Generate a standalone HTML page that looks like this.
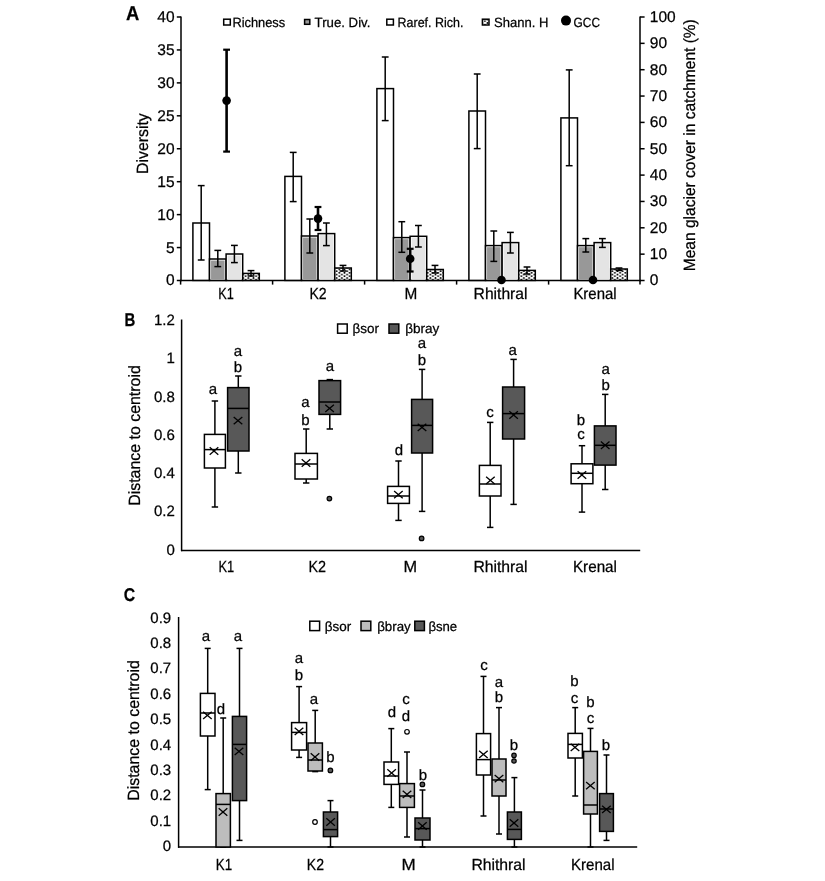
<!DOCTYPE html>
<html><head><meta charset="utf-8"><title>Figure</title>
<style>
html,body{margin:0;padding:0;background:#fff;}
svg{display:block;filter:grayscale(1);}
text{font-family:"Liberation Sans", sans-serif;fill:#000;text-rendering:geometricPrecision;stroke:#000;stroke-width:0.25px;}
</style></head>
<body>
<svg width="825" height="881" viewBox="0 0 825 881">
<defs>
<pattern id="pat" patternUnits="userSpaceOnUse" width="5.2" height="3.4">
<rect width="5.2" height="3.4" fill="#fff"/>
<circle cx="1.3" cy="0.85" r="0.95" fill="#000"/>
<circle cx="3.9" cy="2.55" r="0.95" fill="#000"/>
</pattern>
</defs>
<rect width="825" height="881" fill="#fff"/>
<text x="125.90" y="19.70" font-size="20" font-weight="bold" textLength="13.30" lengthAdjust="spacingAndGlyphs">A</text>
<line x1="181.00" y1="16.50" x2="181.00" y2="281.20" stroke="#000" stroke-width="1.5"/>
<line x1="176.80" y1="280.50" x2="181.00" y2="280.50" stroke="#000" stroke-width="1.5"/>
<text x="174.60" y="285.45" font-size="15.5" text-anchor="end">0</text>
<line x1="176.80" y1="247.56" x2="181.00" y2="247.56" stroke="#000" stroke-width="1.5"/>
<text x="174.60" y="252.51" font-size="15.5" text-anchor="end">5</text>
<line x1="176.80" y1="214.62" x2="181.00" y2="214.62" stroke="#000" stroke-width="1.5"/>
<text x="174.60" y="219.57" font-size="15.5" text-anchor="end">10</text>
<line x1="176.80" y1="181.69" x2="181.00" y2="181.69" stroke="#000" stroke-width="1.5"/>
<text x="174.60" y="186.64" font-size="15.5" text-anchor="end">15</text>
<line x1="176.80" y1="148.75" x2="181.00" y2="148.75" stroke="#000" stroke-width="1.5"/>
<text x="174.60" y="153.70" font-size="15.5" text-anchor="end">20</text>
<line x1="176.80" y1="115.81" x2="181.00" y2="115.81" stroke="#000" stroke-width="1.5"/>
<text x="174.60" y="120.76" font-size="15.5" text-anchor="end">25</text>
<line x1="176.80" y1="82.88" x2="181.00" y2="82.88" stroke="#000" stroke-width="1.5"/>
<text x="174.60" y="87.83" font-size="15.5" text-anchor="end">30</text>
<line x1="176.80" y1="49.94" x2="181.00" y2="49.94" stroke="#000" stroke-width="1.5"/>
<text x="174.60" y="54.89" font-size="15.5" text-anchor="end">35</text>
<line x1="176.80" y1="17.00" x2="181.00" y2="17.00" stroke="#000" stroke-width="1.5"/>
<text x="174.60" y="21.95" font-size="15.5" text-anchor="end">40</text>
<line x1="180.00" y1="280.40" x2="640.50" y2="280.40" stroke="#000" stroke-width="1.5"/>
<line x1="180.60" y1="280.40" x2="180.60" y2="284.60" stroke="#000" stroke-width="1.5"/>
<line x1="272.60" y1="280.40" x2="272.60" y2="284.60" stroke="#000" stroke-width="1.5"/>
<line x1="364.60" y1="280.40" x2="364.60" y2="284.60" stroke="#000" stroke-width="1.5"/>
<line x1="456.60" y1="280.40" x2="456.60" y2="284.60" stroke="#000" stroke-width="1.5"/>
<line x1="548.60" y1="280.40" x2="548.60" y2="284.60" stroke="#000" stroke-width="1.5"/>
<line x1="640.00" y1="280.40" x2="640.00" y2="284.60" stroke="#000" stroke-width="1.5"/>
<line x1="640.00" y1="16.50" x2="640.00" y2="281.20" stroke="#000" stroke-width="1.5"/>
<line x1="640.00" y1="280.50" x2="644.60" y2="280.50" stroke="#000" stroke-width="1.5"/>
<text x="649.80" y="285.45" font-size="15.5">0</text>
<line x1="640.00" y1="254.15" x2="644.60" y2="254.15" stroke="#000" stroke-width="1.5"/>
<text x="649.80" y="259.10" font-size="15.5">10</text>
<line x1="640.00" y1="227.80" x2="644.60" y2="227.80" stroke="#000" stroke-width="1.5"/>
<text x="649.80" y="232.75" font-size="15.5">20</text>
<line x1="640.00" y1="201.45" x2="644.60" y2="201.45" stroke="#000" stroke-width="1.5"/>
<text x="649.80" y="206.40" font-size="15.5">30</text>
<line x1="640.00" y1="175.10" x2="644.60" y2="175.10" stroke="#000" stroke-width="1.5"/>
<text x="649.80" y="180.05" font-size="15.5">40</text>
<line x1="640.00" y1="148.75" x2="644.60" y2="148.75" stroke="#000" stroke-width="1.5"/>
<text x="649.80" y="153.70" font-size="15.5">50</text>
<line x1="640.00" y1="122.40" x2="644.60" y2="122.40" stroke="#000" stroke-width="1.5"/>
<text x="649.80" y="127.35" font-size="15.5">60</text>
<line x1="640.00" y1="96.05" x2="644.60" y2="96.05" stroke="#000" stroke-width="1.5"/>
<text x="649.80" y="101.00" font-size="15.5">70</text>
<line x1="640.00" y1="69.70" x2="644.60" y2="69.70" stroke="#000" stroke-width="1.5"/>
<text x="649.80" y="74.65" font-size="15.5">80</text>
<line x1="640.00" y1="43.35" x2="644.60" y2="43.35" stroke="#000" stroke-width="1.5"/>
<text x="649.80" y="48.30" font-size="15.5">90</text>
<line x1="640.00" y1="17.00" x2="644.60" y2="17.00" stroke="#000" stroke-width="1.5"/>
<text x="649.80" y="21.95" font-size="15.5">100</text>
<rect x="192.90" y="223.00" width="16.60" height="57.40" fill="#ffffff" stroke="#000" stroke-width="1.5"/>
<rect x="209.50" y="259.00" width="16.60" height="21.40" fill="#fff" stroke="#000" stroke-width="1.5"/>
<rect x="211.05" y="260.55" width="13.50" height="19.10" fill="#989898"/>
<rect x="226.10" y="254.00" width="16.60" height="26.40" fill="#fff" stroke="#000" stroke-width="1.5"/>
<rect x="227.65" y="255.55" width="13.50" height="24.10" fill="#e4e4e4"/>
<rect x="242.70" y="273.40" width="16.60" height="7.00" fill="url(#pat)" stroke="#000" stroke-width="1.5"/>
<line x1="201.20" y1="185.60" x2="201.20" y2="260.00" stroke="#000" stroke-width="1.5"/>
<line x1="197.80" y1="185.60" x2="204.60" y2="185.60" stroke="#000" stroke-width="1.5"/>
<line x1="197.80" y1="260.00" x2="204.60" y2="260.00" stroke="#000" stroke-width="1.5"/>
<line x1="217.80" y1="250.40" x2="217.80" y2="266.60" stroke="#000" stroke-width="1.5"/>
<line x1="214.40" y1="250.40" x2="221.20" y2="250.40" stroke="#000" stroke-width="1.5"/>
<line x1="214.40" y1="266.60" x2="221.20" y2="266.60" stroke="#000" stroke-width="1.5"/>
<line x1="234.40" y1="245.40" x2="234.40" y2="262.60" stroke="#000" stroke-width="1.5"/>
<line x1="231.00" y1="245.40" x2="237.80" y2="245.40" stroke="#000" stroke-width="1.5"/>
<line x1="231.00" y1="262.60" x2="237.80" y2="262.60" stroke="#000" stroke-width="1.5"/>
<line x1="251.00" y1="270.60" x2="251.00" y2="276.00" stroke="#000" stroke-width="1.5"/>
<line x1="247.60" y1="270.60" x2="254.40" y2="270.60" stroke="#000" stroke-width="1.5"/>
<line x1="247.60" y1="276.00" x2="254.40" y2="276.00" stroke="#000" stroke-width="1.5"/>
<rect x="284.90" y="176.40" width="16.60" height="104.00" fill="#ffffff" stroke="#000" stroke-width="1.5"/>
<rect x="301.50" y="236.00" width="16.60" height="44.40" fill="#fff" stroke="#000" stroke-width="1.5"/>
<rect x="303.05" y="237.55" width="13.50" height="42.10" fill="#989898"/>
<rect x="318.10" y="233.60" width="16.60" height="46.80" fill="#fff" stroke="#000" stroke-width="1.5"/>
<rect x="319.65" y="235.15" width="13.50" height="44.50" fill="#e4e4e4"/>
<rect x="334.70" y="268.00" width="16.60" height="12.40" fill="url(#pat)" stroke="#000" stroke-width="1.5"/>
<line x1="293.20" y1="152.40" x2="293.20" y2="201.60" stroke="#000" stroke-width="1.5"/>
<line x1="289.80" y1="152.40" x2="296.60" y2="152.40" stroke="#000" stroke-width="1.5"/>
<line x1="289.80" y1="201.60" x2="296.60" y2="201.60" stroke="#000" stroke-width="1.5"/>
<line x1="309.80" y1="219.00" x2="309.80" y2="253.00" stroke="#000" stroke-width="1.5"/>
<line x1="306.40" y1="219.00" x2="313.20" y2="219.00" stroke="#000" stroke-width="1.5"/>
<line x1="306.40" y1="253.00" x2="313.20" y2="253.00" stroke="#000" stroke-width="1.5"/>
<line x1="326.40" y1="223.00" x2="326.40" y2="245.60" stroke="#000" stroke-width="1.5"/>
<line x1="323.00" y1="223.00" x2="329.80" y2="223.00" stroke="#000" stroke-width="1.5"/>
<line x1="323.00" y1="245.60" x2="329.80" y2="245.60" stroke="#000" stroke-width="1.5"/>
<line x1="343.00" y1="265.40" x2="343.00" y2="271.00" stroke="#000" stroke-width="1.5"/>
<line x1="339.60" y1="265.40" x2="346.40" y2="265.40" stroke="#000" stroke-width="1.5"/>
<line x1="339.60" y1="271.00" x2="346.40" y2="271.00" stroke="#000" stroke-width="1.5"/>
<rect x="376.90" y="88.60" width="16.60" height="191.80" fill="#ffffff" stroke="#000" stroke-width="1.5"/>
<rect x="393.50" y="237.60" width="16.60" height="42.80" fill="#fff" stroke="#000" stroke-width="1.5"/>
<rect x="395.05" y="239.15" width="13.50" height="40.50" fill="#989898"/>
<rect x="410.10" y="236.30" width="16.60" height="44.10" fill="#fff" stroke="#000" stroke-width="1.5"/>
<rect x="411.65" y="237.85" width="13.50" height="41.80" fill="#e4e4e4"/>
<rect x="426.70" y="269.50" width="16.60" height="10.90" fill="url(#pat)" stroke="#000" stroke-width="1.5"/>
<line x1="385.20" y1="57.00" x2="385.20" y2="120.60" stroke="#000" stroke-width="1.5"/>
<line x1="381.80" y1="57.00" x2="388.60" y2="57.00" stroke="#000" stroke-width="1.5"/>
<line x1="381.80" y1="120.60" x2="388.60" y2="120.60" stroke="#000" stroke-width="1.5"/>
<line x1="401.80" y1="221.70" x2="401.80" y2="252.30" stroke="#000" stroke-width="1.5"/>
<line x1="398.40" y1="221.70" x2="405.20" y2="221.70" stroke="#000" stroke-width="1.5"/>
<line x1="398.40" y1="252.30" x2="405.20" y2="252.30" stroke="#000" stroke-width="1.5"/>
<line x1="418.40" y1="225.50" x2="418.40" y2="247.00" stroke="#000" stroke-width="1.5"/>
<line x1="415.00" y1="225.50" x2="421.80" y2="225.50" stroke="#000" stroke-width="1.5"/>
<line x1="415.00" y1="247.00" x2="421.80" y2="247.00" stroke="#000" stroke-width="1.5"/>
<line x1="435.00" y1="265.40" x2="435.00" y2="273.00" stroke="#000" stroke-width="1.5"/>
<line x1="431.60" y1="265.40" x2="438.40" y2="265.40" stroke="#000" stroke-width="1.5"/>
<line x1="431.60" y1="273.00" x2="438.40" y2="273.00" stroke="#000" stroke-width="1.5"/>
<rect x="468.90" y="111.00" width="16.60" height="169.40" fill="#ffffff" stroke="#000" stroke-width="1.5"/>
<rect x="485.50" y="245.60" width="16.60" height="34.80" fill="#fff" stroke="#000" stroke-width="1.5"/>
<rect x="487.05" y="247.15" width="13.50" height="32.50" fill="#989898"/>
<rect x="502.10" y="242.60" width="16.60" height="37.80" fill="#fff" stroke="#000" stroke-width="1.5"/>
<rect x="503.65" y="244.15" width="13.50" height="35.50" fill="#e4e4e4"/>
<rect x="518.70" y="270.40" width="16.60" height="10.00" fill="url(#pat)" stroke="#000" stroke-width="1.5"/>
<line x1="477.20" y1="74.00" x2="477.20" y2="148.60" stroke="#000" stroke-width="1.5"/>
<line x1="473.80" y1="74.00" x2="480.60" y2="74.00" stroke="#000" stroke-width="1.5"/>
<line x1="473.80" y1="148.60" x2="480.60" y2="148.60" stroke="#000" stroke-width="1.5"/>
<line x1="493.80" y1="231.00" x2="493.80" y2="261.40" stroke="#000" stroke-width="1.5"/>
<line x1="490.40" y1="231.00" x2="497.20" y2="231.00" stroke="#000" stroke-width="1.5"/>
<line x1="490.40" y1="261.40" x2="497.20" y2="261.40" stroke="#000" stroke-width="1.5"/>
<line x1="510.40" y1="232.40" x2="510.40" y2="253.00" stroke="#000" stroke-width="1.5"/>
<line x1="507.00" y1="232.40" x2="513.80" y2="232.40" stroke="#000" stroke-width="1.5"/>
<line x1="507.00" y1="253.00" x2="513.80" y2="253.00" stroke="#000" stroke-width="1.5"/>
<line x1="527.00" y1="267.00" x2="527.00" y2="274.00" stroke="#000" stroke-width="1.5"/>
<line x1="523.60" y1="267.00" x2="530.40" y2="267.00" stroke="#000" stroke-width="1.5"/>
<line x1="523.60" y1="274.00" x2="530.40" y2="274.00" stroke="#000" stroke-width="1.5"/>
<rect x="560.90" y="117.90" width="16.60" height="162.50" fill="#ffffff" stroke="#000" stroke-width="1.5"/>
<rect x="577.50" y="245.60" width="16.60" height="34.80" fill="#fff" stroke="#000" stroke-width="1.5"/>
<rect x="579.05" y="247.15" width="13.50" height="32.50" fill="#989898"/>
<rect x="594.10" y="242.60" width="16.60" height="37.80" fill="#fff" stroke="#000" stroke-width="1.5"/>
<rect x="595.65" y="244.15" width="13.50" height="35.50" fill="#e4e4e4"/>
<rect x="610.70" y="269.00" width="16.60" height="11.40" fill="url(#pat)" stroke="#000" stroke-width="1.5"/>
<line x1="569.20" y1="69.90" x2="569.20" y2="165.70" stroke="#000" stroke-width="1.5"/>
<line x1="565.80" y1="69.90" x2="572.60" y2="69.90" stroke="#000" stroke-width="1.5"/>
<line x1="565.80" y1="165.70" x2="572.60" y2="165.70" stroke="#000" stroke-width="1.5"/>
<line x1="585.80" y1="238.60" x2="585.80" y2="252.00" stroke="#000" stroke-width="1.5"/>
<line x1="582.40" y1="238.60" x2="589.20" y2="238.60" stroke="#000" stroke-width="1.5"/>
<line x1="582.40" y1="252.00" x2="589.20" y2="252.00" stroke="#000" stroke-width="1.5"/>
<line x1="602.40" y1="238.60" x2="602.40" y2="247.40" stroke="#000" stroke-width="1.5"/>
<line x1="599.00" y1="238.60" x2="605.80" y2="238.60" stroke="#000" stroke-width="1.5"/>
<line x1="599.00" y1="247.40" x2="605.80" y2="247.40" stroke="#000" stroke-width="1.5"/>
<line x1="619.00" y1="268.00" x2="619.00" y2="270.50" stroke="#000" stroke-width="1.5"/>
<line x1="615.60" y1="268.00" x2="622.40" y2="268.00" stroke="#000" stroke-width="1.5"/>
<line x1="615.60" y1="270.50" x2="622.40" y2="270.50" stroke="#000" stroke-width="1.5"/>
<line x1="226.60" y1="49.70" x2="226.60" y2="151.60" stroke="#000" stroke-width="2.6"/>
<line x1="223.20" y1="49.70" x2="230.00" y2="49.70" stroke="#000" stroke-width="2.2"/>
<line x1="223.20" y1="151.60" x2="230.00" y2="151.60" stroke="#000" stroke-width="2.2"/>
<circle cx="226.60" cy="100.60" r="4.30" fill="#000" stroke="#000" stroke-width="0"/>
<line x1="318.00" y1="207.00" x2="318.00" y2="230.00" stroke="#000" stroke-width="2.6"/>
<line x1="314.60" y1="207.00" x2="321.40" y2="207.00" stroke="#000" stroke-width="2.2"/>
<line x1="314.60" y1="230.00" x2="321.40" y2="230.00" stroke="#000" stroke-width="2.2"/>
<circle cx="318.00" cy="218.60" r="4.30" fill="#000" stroke="#000" stroke-width="0"/>
<line x1="410.20" y1="248.80" x2="410.20" y2="271.50" stroke="#000" stroke-width="2.6"/>
<line x1="406.80" y1="248.80" x2="413.60" y2="248.80" stroke="#000" stroke-width="2.2"/>
<line x1="406.80" y1="271.50" x2="413.60" y2="271.50" stroke="#000" stroke-width="2.2"/>
<circle cx="410.20" cy="258.70" r="4.30" fill="#000" stroke="#000" stroke-width="0"/>
<circle cx="501.50" cy="280.00" r="4.30" fill="#000" stroke="#000" stroke-width="0"/>
<circle cx="593.00" cy="280.00" r="4.30" fill="#000" stroke="#000" stroke-width="0"/>
<text x="218.20" y="298.90" font-size="16" textLength="15.60" lengthAdjust="spacingAndGlyphs">K1</text>
<text x="309.40" y="298.90" font-size="16" textLength="17.20" lengthAdjust="spacingAndGlyphs">K2</text>
<text x="404.50" y="298.90" font-size="16" textLength="12.80" lengthAdjust="spacingAndGlyphs">M</text>
<text x="473.60" y="298.90" font-size="16" textLength="53.90" lengthAdjust="spacingAndGlyphs">Rhithral</text>
<text x="573.40" y="298.90" font-size="16" textLength="43.20" lengthAdjust="spacingAndGlyphs">Krenal</text>
<rect x="223.70" y="19.20" width="6.60" height="5.80" fill="#fff" stroke="#000" stroke-width="1.5"/>
<text x="232.40" y="27.40" font-size="13.4" textLength="52.80" lengthAdjust="spacingAndGlyphs">Richness</text>
<rect x="304.60" y="19.50" width="5.20" height="4.80" fill="#989898" stroke="#000" stroke-width="1.5"/>
<text x="314.60" y="27.40" font-size="13.4" textLength="55.80" lengthAdjust="spacingAndGlyphs">True. Div.</text>
<rect x="386.80" y="19.20" width="6.60" height="5.80" fill="#fff" stroke="#000" stroke-width="1.5"/>
<text x="397.60" y="27.40" font-size="13.4" textLength="65.80" lengthAdjust="spacingAndGlyphs">Raref. Rich.</text>
<rect x="482.40" y="19.20" width="6.60" height="5.80" fill="url(#pat)" stroke="#000" stroke-width="1.5"/>
<text x="494.00" y="27.40" font-size="13.4" textLength="54.40" lengthAdjust="spacingAndGlyphs">Shann. H</text>
<circle cx="566.00" cy="20.60" r="5.00" fill="#000" stroke="#000" stroke-width="0"/>
<text x="573.60" y="27.40" font-size="13.4" textLength="26.40" lengthAdjust="spacingAndGlyphs">GCC</text>
<text transform="translate(148.10,173.90) rotate(-90)" font-size="16.3" textLength="60.60" lengthAdjust="spacingAndGlyphs">Diversity</text>
<text transform="translate(695.00,271.20) rotate(-90)" font-size="16.3" textLength="252.00" lengthAdjust="spacingAndGlyphs">Mean glacier cover in catchment (%)</text>
<text x="124.50" y="326.10" font-size="18.5" font-weight="bold" textLength="10.80" lengthAdjust="spacingAndGlyphs">B</text>
<line x1="181.60" y1="319.50" x2="181.60" y2="551.20" stroke="#000" stroke-width="1.5"/>
<line x1="181.00" y1="550.50" x2="640.20" y2="550.50" stroke="#000" stroke-width="1.5"/>
<text x="174.80" y="325.20" font-size="15" text-anchor="end">1.2</text>
<text x="174.80" y="363.45" font-size="15" text-anchor="end">1</text>
<text x="174.80" y="401.70" font-size="15" text-anchor="end">0.8</text>
<text x="174.80" y="439.95" font-size="15" text-anchor="end">0.6</text>
<text x="174.80" y="478.20" font-size="15" text-anchor="end">0.4</text>
<text x="174.80" y="516.45" font-size="15" text-anchor="end">0.2</text>
<text x="174.80" y="554.70" font-size="15" text-anchor="end">0</text>
<text transform="translate(140.20,505.80) rotate(-90)" font-size="16.3" textLength="140.60" lengthAdjust="spacingAndGlyphs">Distance to centroid</text>
<text x="218.40" y="572.00" font-size="16" textLength="15.80" lengthAdjust="spacingAndGlyphs">K1</text>
<text x="308.40" y="572.00" font-size="16" textLength="17.60" lengthAdjust="spacingAndGlyphs">K2</text>
<text x="403.40" y="572.00" font-size="16" textLength="13.60" lengthAdjust="spacingAndGlyphs">M</text>
<text x="473.40" y="572.00" font-size="16" textLength="54.20" lengthAdjust="spacingAndGlyphs">Rhithral</text>
<text x="572.90" y="572.00" font-size="16" textLength="44.10" lengthAdjust="spacingAndGlyphs">Krenal</text>
<line x1="214.90" y1="401.00" x2="214.90" y2="434.40" stroke="#000" stroke-width="1.5"/>
<line x1="214.90" y1="468.00" x2="214.90" y2="507.00" stroke="#000" stroke-width="1.5"/>
<line x1="211.70" y1="401.00" x2="218.10" y2="401.00" stroke="#000" stroke-width="1.5"/>
<line x1="211.70" y1="507.00" x2="218.10" y2="507.00" stroke="#000" stroke-width="1.5"/>
<rect x="204.40" y="434.40" width="21.00" height="33.60" fill="#fff" stroke="#000" stroke-width="1.5"/>
<line x1="204.40" y1="449.60" x2="225.40" y2="449.60" stroke="#000" stroke-width="1.5"/>
<line x1="209.70" y1="447.30" x2="218.30" y2="454.70" stroke="#000" stroke-width="1.3"/>
<line x1="209.70" y1="454.70" x2="218.30" y2="447.30" stroke="#000" stroke-width="1.3"/>
<line x1="238.30" y1="376.00" x2="238.30" y2="387.60" stroke="#000" stroke-width="1.5"/>
<line x1="238.30" y1="451.00" x2="238.30" y2="473.00" stroke="#000" stroke-width="1.5"/>
<line x1="235.10" y1="376.00" x2="241.50" y2="376.00" stroke="#000" stroke-width="1.5"/>
<line x1="235.10" y1="473.00" x2="241.50" y2="473.00" stroke="#000" stroke-width="1.5"/>
<rect x="227.60" y="387.60" width="21.40" height="63.40" fill="#585858" stroke="#000" stroke-width="1.5"/>
<line x1="227.60" y1="408.40" x2="249.00" y2="408.40" stroke="#000" stroke-width="1.5"/>
<line x1="233.70" y1="416.90" x2="242.30" y2="424.30" stroke="#000" stroke-width="1.3"/>
<line x1="233.70" y1="424.30" x2="242.30" y2="416.90" stroke="#000" stroke-width="1.3"/>
<line x1="306.20" y1="429.00" x2="306.20" y2="453.40" stroke="#000" stroke-width="1.5"/>
<line x1="306.20" y1="479.00" x2="306.20" y2="483.00" stroke="#000" stroke-width="1.5"/>
<line x1="303.00" y1="429.00" x2="309.40" y2="429.00" stroke="#000" stroke-width="1.5"/>
<line x1="303.00" y1="483.00" x2="309.40" y2="483.00" stroke="#000" stroke-width="1.5"/>
<rect x="295.00" y="453.40" width="22.40" height="25.60" fill="#fff" stroke="#000" stroke-width="1.5"/>
<line x1="295.00" y1="464.00" x2="317.40" y2="464.00" stroke="#000" stroke-width="1.5"/>
<line x1="301.70" y1="459.30" x2="310.30" y2="466.70" stroke="#000" stroke-width="1.3"/>
<line x1="301.70" y1="466.70" x2="310.30" y2="459.30" stroke="#000" stroke-width="1.3"/>
<line x1="329.80" y1="379.60" x2="329.80" y2="380.60" stroke="#000" stroke-width="1.5"/>
<line x1="329.80" y1="414.40" x2="329.80" y2="429.00" stroke="#000" stroke-width="1.5"/>
<line x1="326.60" y1="379.60" x2="333.00" y2="379.60" stroke="#000" stroke-width="1.5"/>
<line x1="326.60" y1="429.00" x2="333.00" y2="429.00" stroke="#000" stroke-width="1.5"/>
<rect x="319.00" y="380.60" width="21.60" height="33.80" fill="#585858" stroke="#000" stroke-width="1.5"/>
<line x1="319.00" y1="402.00" x2="340.60" y2="402.00" stroke="#000" stroke-width="1.5"/>
<line x1="325.30" y1="404.70" x2="333.90" y2="412.10" stroke="#000" stroke-width="1.3"/>
<line x1="325.30" y1="412.10" x2="333.90" y2="404.70" stroke="#000" stroke-width="1.3"/>
<line x1="398.50" y1="461.00" x2="398.50" y2="486.40" stroke="#000" stroke-width="1.5"/>
<line x1="398.50" y1="503.40" x2="398.50" y2="520.40" stroke="#000" stroke-width="1.5"/>
<line x1="395.30" y1="461.00" x2="401.70" y2="461.00" stroke="#000" stroke-width="1.5"/>
<line x1="395.30" y1="520.40" x2="401.70" y2="520.40" stroke="#000" stroke-width="1.5"/>
<rect x="387.60" y="486.40" width="21.80" height="17.00" fill="#fff" stroke="#000" stroke-width="1.5"/>
<line x1="387.60" y1="496.00" x2="409.40" y2="496.00" stroke="#000" stroke-width="1.5"/>
<line x1="394.10" y1="490.90" x2="402.70" y2="498.30" stroke="#000" stroke-width="1.3"/>
<line x1="394.10" y1="498.30" x2="402.70" y2="490.90" stroke="#000" stroke-width="1.3"/>
<line x1="422.10" y1="369.40" x2="422.10" y2="399.40" stroke="#000" stroke-width="1.5"/>
<line x1="422.10" y1="453.00" x2="422.10" y2="511.40" stroke="#000" stroke-width="1.5"/>
<line x1="418.90" y1="369.40" x2="425.30" y2="369.40" stroke="#000" stroke-width="1.5"/>
<line x1="418.90" y1="511.40" x2="425.30" y2="511.40" stroke="#000" stroke-width="1.5"/>
<rect x="411.60" y="399.40" width="21.00" height="53.60" fill="#585858" stroke="#000" stroke-width="1.5"/>
<line x1="411.60" y1="425.40" x2="432.60" y2="425.40" stroke="#000" stroke-width="1.5"/>
<line x1="417.70" y1="423.70" x2="426.30" y2="431.10" stroke="#000" stroke-width="1.3"/>
<line x1="417.70" y1="431.10" x2="426.30" y2="423.70" stroke="#000" stroke-width="1.3"/>
<line x1="490.20" y1="422.40" x2="490.20" y2="465.40" stroke="#000" stroke-width="1.5"/>
<line x1="490.20" y1="496.00" x2="490.20" y2="527.40" stroke="#000" stroke-width="1.5"/>
<line x1="487.00" y1="422.40" x2="493.40" y2="422.40" stroke="#000" stroke-width="1.5"/>
<line x1="487.00" y1="527.40" x2="493.40" y2="527.40" stroke="#000" stroke-width="1.5"/>
<rect x="479.40" y="465.40" width="21.60" height="30.60" fill="#fff" stroke="#000" stroke-width="1.5"/>
<line x1="479.40" y1="484.00" x2="501.00" y2="484.00" stroke="#000" stroke-width="1.5"/>
<line x1="486.10" y1="476.70" x2="494.70" y2="484.10" stroke="#000" stroke-width="1.3"/>
<line x1="486.10" y1="484.10" x2="494.70" y2="476.70" stroke="#000" stroke-width="1.3"/>
<line x1="513.60" y1="359.40" x2="513.60" y2="387.00" stroke="#000" stroke-width="1.5"/>
<line x1="513.60" y1="439.00" x2="513.60" y2="504.40" stroke="#000" stroke-width="1.5"/>
<line x1="510.40" y1="359.40" x2="516.80" y2="359.40" stroke="#000" stroke-width="1.5"/>
<line x1="510.40" y1="504.40" x2="516.80" y2="504.40" stroke="#000" stroke-width="1.5"/>
<rect x="502.60" y="387.00" width="22.00" height="52.00" fill="#585858" stroke="#000" stroke-width="1.5"/>
<line x1="502.60" y1="413.60" x2="524.60" y2="413.60" stroke="#000" stroke-width="1.5"/>
<line x1="509.30" y1="411.30" x2="517.90" y2="418.70" stroke="#000" stroke-width="1.3"/>
<line x1="509.30" y1="418.70" x2="517.90" y2="411.30" stroke="#000" stroke-width="1.3"/>
<line x1="582.00" y1="445.70" x2="582.00" y2="463.80" stroke="#000" stroke-width="1.5"/>
<line x1="582.00" y1="483.70" x2="582.00" y2="512.10" stroke="#000" stroke-width="1.5"/>
<line x1="578.80" y1="445.70" x2="585.20" y2="445.70" stroke="#000" stroke-width="1.5"/>
<line x1="578.80" y1="512.10" x2="585.20" y2="512.10" stroke="#000" stroke-width="1.5"/>
<rect x="571.10" y="463.80" width="21.80" height="19.90" fill="#fff" stroke="#000" stroke-width="1.5"/>
<line x1="571.10" y1="473.30" x2="592.90" y2="473.30" stroke="#000" stroke-width="1.5"/>
<line x1="577.60" y1="471.30" x2="586.20" y2="478.70" stroke="#000" stroke-width="1.3"/>
<line x1="577.60" y1="478.70" x2="586.20" y2="471.30" stroke="#000" stroke-width="1.3"/>
<line x1="605.20" y1="394.40" x2="605.20" y2="425.90" stroke="#000" stroke-width="1.5"/>
<line x1="605.20" y1="465.10" x2="605.20" y2="489.50" stroke="#000" stroke-width="1.5"/>
<line x1="602.00" y1="394.40" x2="608.40" y2="394.40" stroke="#000" stroke-width="1.5"/>
<line x1="602.00" y1="489.50" x2="608.40" y2="489.50" stroke="#000" stroke-width="1.5"/>
<rect x="594.40" y="425.90" width="21.60" height="39.20" fill="#585858" stroke="#000" stroke-width="1.5"/>
<line x1="594.40" y1="445.30" x2="616.00" y2="445.30" stroke="#000" stroke-width="1.5"/>
<line x1="600.90" y1="441.60" x2="609.50" y2="449.00" stroke="#000" stroke-width="1.3"/>
<line x1="600.90" y1="449.00" x2="609.50" y2="441.60" stroke="#000" stroke-width="1.3"/>
<circle cx="329.40" cy="498.60" r="2.30" fill="#585858" stroke="#000" stroke-width="1.2"/>
<circle cx="421.60" cy="538.40" r="2.30" fill="#585858" stroke="#000" stroke-width="1.2"/>
<text x="213.00" y="394.00" font-size="15" text-anchor="middle">a</text>
<text x="238.00" y="356.00" font-size="15" text-anchor="middle">a</text>
<text x="238.00" y="372.00" font-size="15" text-anchor="middle">b</text>
<text x="305.40" y="407.00" font-size="15" text-anchor="middle">a</text>
<text x="305.40" y="425.00" font-size="15" text-anchor="middle">b</text>
<text x="330.00" y="371.40" font-size="15" text-anchor="middle">a</text>
<text x="399.00" y="455.00" font-size="15" text-anchor="middle">d</text>
<text x="422.00" y="348.00" font-size="15" text-anchor="middle">a</text>
<text x="422.00" y="365.40" font-size="15" text-anchor="middle">b</text>
<text x="490.00" y="417.00" font-size="15" text-anchor="middle">c</text>
<text x="512.60" y="355.00" font-size="15" text-anchor="middle">a</text>
<text x="581.00" y="424.60" font-size="15" text-anchor="middle">b</text>
<text x="581.00" y="438.60" font-size="15" text-anchor="middle">c</text>
<text x="605.60" y="374.00" font-size="15" text-anchor="middle">a</text>
<text x="605.60" y="390.00" font-size="15" text-anchor="middle">b</text>
<rect x="337.60" y="324.00" width="9.60" height="9.20" fill="#fff" stroke="#000" stroke-width="1.5"/>
<text x="352.60" y="333.20" font-size="13.4" textLength="26.40" lengthAdjust="spacingAndGlyphs">βsor</text>
<rect x="389.00" y="324.00" width="9.80" height="9.20" fill="#585858" stroke="#000" stroke-width="1.5"/>
<text x="405.20" y="333.20" font-size="13.4" textLength="34.20" lengthAdjust="spacingAndGlyphs">βbray</text>
<text x="123.80" y="601.00" font-size="18.5" font-weight="bold" textLength="11.40" lengthAdjust="spacingAndGlyphs">C</text>
<line x1="178.60" y1="617.00" x2="178.60" y2="847.80" stroke="#000" stroke-width="1.5"/>
<line x1="178.00" y1="847.10" x2="637.20" y2="847.10" stroke="#000" stroke-width="1.5"/>
<text x="171.20" y="851.10" font-size="15" text-anchor="end">0</text>
<text x="171.20" y="825.72" font-size="15" text-anchor="end">0.1</text>
<text x="171.20" y="800.34" font-size="15" text-anchor="end">0.2</text>
<text x="171.20" y="774.96" font-size="15" text-anchor="end">0.3</text>
<text x="171.20" y="749.58" font-size="15" text-anchor="end">0.4</text>
<text x="171.20" y="724.20" font-size="15" text-anchor="end">0.5</text>
<text x="171.20" y="698.82" font-size="15" text-anchor="end">0.6</text>
<text x="171.20" y="673.44" font-size="15" text-anchor="end">0.7</text>
<text x="171.20" y="648.06" font-size="15" text-anchor="end">0.8</text>
<text x="171.20" y="622.68" font-size="15" text-anchor="end">0.9</text>
<text transform="translate(139.00,800.80) rotate(-90)" font-size="16.3" textLength="140.60" lengthAdjust="spacingAndGlyphs">Distance to centroid</text>
<text x="215.80" y="870.20" font-size="16" textLength="16.40" lengthAdjust="spacingAndGlyphs">K1</text>
<text x="306.80" y="870.20" font-size="16" textLength="17.20" lengthAdjust="spacingAndGlyphs">K2</text>
<text x="401.40" y="870.20" font-size="16" textLength="14.20" lengthAdjust="spacingAndGlyphs">M</text>
<text x="471.40" y="870.20" font-size="16" textLength="54.20" lengthAdjust="spacingAndGlyphs">Rhithral</text>
<text x="571.00" y="870.20" font-size="16" textLength="43.60" lengthAdjust="spacingAndGlyphs">Krenal</text>
<line x1="207.70" y1="648.40" x2="207.70" y2="693.40" stroke="#000" stroke-width="1.5"/>
<line x1="207.70" y1="736.00" x2="207.70" y2="789.60" stroke="#000" stroke-width="1.5"/>
<line x1="204.70" y1="648.40" x2="210.70" y2="648.40" stroke="#000" stroke-width="1.5"/>
<line x1="204.70" y1="789.60" x2="210.70" y2="789.60" stroke="#000" stroke-width="1.5"/>
<rect x="200.40" y="693.40" width="14.60" height="42.60" fill="#fff" stroke="#000" stroke-width="1.5"/>
<line x1="200.40" y1="713.00" x2="215.00" y2="713.00" stroke="#000" stroke-width="1.5"/>
<line x1="203.10" y1="711.70" x2="211.70" y2="719.10" stroke="#000" stroke-width="1.3"/>
<line x1="203.10" y1="719.10" x2="211.70" y2="711.70" stroke="#000" stroke-width="1.3"/>
<line x1="223.20" y1="718.00" x2="223.20" y2="793.60" stroke="#000" stroke-width="1.5"/>
<line x1="223.20" y1="847.00" x2="223.20" y2="847.00" stroke="#000" stroke-width="1.5"/>
<line x1="220.20" y1="718.00" x2="226.20" y2="718.00" stroke="#000" stroke-width="1.5"/>
<line x1="220.20" y1="847.00" x2="226.20" y2="847.00" stroke="#000" stroke-width="1.5"/>
<rect x="216.00" y="793.60" width="14.40" height="53.40" fill="#bdbdbd" stroke="#000" stroke-width="1.5"/>
<line x1="216.00" y1="804.40" x2="230.40" y2="804.40" stroke="#000" stroke-width="1.5"/>
<line x1="218.70" y1="808.30" x2="227.30" y2="815.70" stroke="#000" stroke-width="1.3"/>
<line x1="218.70" y1="815.70" x2="227.30" y2="808.30" stroke="#000" stroke-width="1.3"/>
<line x1="239.50" y1="648.40" x2="239.50" y2="716.40" stroke="#000" stroke-width="1.5"/>
<line x1="239.50" y1="800.60" x2="239.50" y2="840.40" stroke="#000" stroke-width="1.5"/>
<line x1="236.50" y1="648.40" x2="242.50" y2="648.40" stroke="#000" stroke-width="1.5"/>
<line x1="236.50" y1="840.40" x2="242.50" y2="840.40" stroke="#000" stroke-width="1.5"/>
<rect x="232.40" y="716.40" width="14.20" height="84.20" fill="#585858" stroke="#000" stroke-width="1.5"/>
<line x1="232.40" y1="744.40" x2="246.60" y2="744.40" stroke="#000" stroke-width="1.5"/>
<line x1="234.70" y1="747.70" x2="243.30" y2="755.10" stroke="#000" stroke-width="1.3"/>
<line x1="234.70" y1="755.10" x2="243.30" y2="747.70" stroke="#000" stroke-width="1.3"/>
<line x1="299.10" y1="686.60" x2="299.10" y2="722.60" stroke="#000" stroke-width="1.5"/>
<line x1="299.10" y1="750.00" x2="299.10" y2="757.40" stroke="#000" stroke-width="1.5"/>
<line x1="296.10" y1="686.60" x2="302.10" y2="686.60" stroke="#000" stroke-width="1.5"/>
<line x1="296.10" y1="757.40" x2="302.10" y2="757.40" stroke="#000" stroke-width="1.5"/>
<rect x="291.60" y="722.60" width="15.00" height="27.40" fill="#fff" stroke="#000" stroke-width="1.5"/>
<line x1="291.60" y1="732.40" x2="306.60" y2="732.40" stroke="#000" stroke-width="1.5"/>
<line x1="294.70" y1="727.70" x2="303.30" y2="735.10" stroke="#000" stroke-width="1.3"/>
<line x1="294.70" y1="735.10" x2="303.30" y2="727.70" stroke="#000" stroke-width="1.3"/>
<line x1="315.20" y1="710.40" x2="315.20" y2="743.00" stroke="#000" stroke-width="1.5"/>
<line x1="315.20" y1="771.00" x2="315.20" y2="771.60" stroke="#000" stroke-width="1.5"/>
<line x1="312.20" y1="710.40" x2="318.20" y2="710.40" stroke="#000" stroke-width="1.5"/>
<line x1="312.20" y1="771.60" x2="318.20" y2="771.60" stroke="#000" stroke-width="1.5"/>
<rect x="308.00" y="743.00" width="14.40" height="28.00" fill="#bdbdbd" stroke="#000" stroke-width="1.5"/>
<line x1="308.00" y1="760.00" x2="322.40" y2="760.00" stroke="#000" stroke-width="1.5"/>
<line x1="310.70" y1="753.30" x2="319.30" y2="760.70" stroke="#000" stroke-width="1.3"/>
<line x1="310.70" y1="760.70" x2="319.30" y2="753.30" stroke="#000" stroke-width="1.3"/>
<line x1="330.50" y1="800.60" x2="330.50" y2="812.00" stroke="#000" stroke-width="1.5"/>
<line x1="330.50" y1="836.60" x2="330.50" y2="847.00" stroke="#000" stroke-width="1.5"/>
<line x1="327.50" y1="800.60" x2="333.50" y2="800.60" stroke="#000" stroke-width="1.5"/>
<line x1="327.50" y1="847.00" x2="333.50" y2="847.00" stroke="#000" stroke-width="1.5"/>
<rect x="323.40" y="812.00" width="14.20" height="24.60" fill="#585858" stroke="#000" stroke-width="1.5"/>
<line x1="323.40" y1="829.60" x2="337.60" y2="829.60" stroke="#000" stroke-width="1.5"/>
<line x1="326.30" y1="818.30" x2="334.90" y2="825.70" stroke="#000" stroke-width="1.3"/>
<line x1="326.30" y1="825.70" x2="334.90" y2="818.30" stroke="#000" stroke-width="1.3"/>
<line x1="391.30" y1="728.60" x2="391.30" y2="762.00" stroke="#000" stroke-width="1.5"/>
<line x1="391.30" y1="784.40" x2="391.30" y2="807.40" stroke="#000" stroke-width="1.5"/>
<line x1="388.30" y1="728.60" x2="394.30" y2="728.60" stroke="#000" stroke-width="1.5"/>
<line x1="388.30" y1="807.40" x2="394.30" y2="807.40" stroke="#000" stroke-width="1.5"/>
<rect x="384.00" y="762.00" width="14.60" height="22.40" fill="#fff" stroke="#000" stroke-width="1.5"/>
<line x1="384.00" y1="776.00" x2="398.60" y2="776.00" stroke="#000" stroke-width="1.5"/>
<line x1="387.30" y1="769.30" x2="395.90" y2="776.70" stroke="#000" stroke-width="1.3"/>
<line x1="387.30" y1="776.70" x2="395.90" y2="769.30" stroke="#000" stroke-width="1.3"/>
<line x1="407.00" y1="752.00" x2="407.00" y2="783.60" stroke="#000" stroke-width="1.5"/>
<line x1="407.00" y1="807.40" x2="407.00" y2="837.00" stroke="#000" stroke-width="1.5"/>
<line x1="404.00" y1="752.00" x2="410.00" y2="752.00" stroke="#000" stroke-width="1.5"/>
<line x1="404.00" y1="837.00" x2="410.00" y2="837.00" stroke="#000" stroke-width="1.5"/>
<rect x="399.60" y="783.60" width="14.80" height="23.80" fill="#bdbdbd" stroke="#000" stroke-width="1.5"/>
<line x1="399.60" y1="796.00" x2="414.40" y2="796.00" stroke="#000" stroke-width="1.5"/>
<line x1="402.70" y1="790.70" x2="411.30" y2="798.10" stroke="#000" stroke-width="1.3"/>
<line x1="402.70" y1="798.10" x2="411.30" y2="790.70" stroke="#000" stroke-width="1.3"/>
<line x1="422.50" y1="790.00" x2="422.50" y2="818.00" stroke="#000" stroke-width="1.5"/>
<line x1="422.50" y1="840.00" x2="422.50" y2="847.00" stroke="#000" stroke-width="1.5"/>
<line x1="419.50" y1="790.00" x2="425.50" y2="790.00" stroke="#000" stroke-width="1.5"/>
<line x1="419.50" y1="847.00" x2="425.50" y2="847.00" stroke="#000" stroke-width="1.5"/>
<rect x="415.00" y="818.00" width="15.00" height="22.00" fill="#585858" stroke="#000" stroke-width="1.5"/>
<line x1="415.00" y1="828.60" x2="430.00" y2="828.60" stroke="#000" stroke-width="1.5"/>
<line x1="418.10" y1="822.30" x2="426.70" y2="829.70" stroke="#000" stroke-width="1.3"/>
<line x1="418.10" y1="829.70" x2="426.70" y2="822.30" stroke="#000" stroke-width="1.3"/>
<line x1="483.50" y1="676.40" x2="483.50" y2="733.60" stroke="#000" stroke-width="1.5"/>
<line x1="483.50" y1="775.00" x2="483.50" y2="816.00" stroke="#000" stroke-width="1.5"/>
<line x1="480.50" y1="676.40" x2="486.50" y2="676.40" stroke="#000" stroke-width="1.5"/>
<line x1="480.50" y1="816.00" x2="486.50" y2="816.00" stroke="#000" stroke-width="1.5"/>
<rect x="476.40" y="733.60" width="14.20" height="41.40" fill="#fff" stroke="#000" stroke-width="1.5"/>
<line x1="476.40" y1="759.60" x2="490.60" y2="759.60" stroke="#000" stroke-width="1.5"/>
<line x1="479.10" y1="750.70" x2="487.70" y2="758.10" stroke="#000" stroke-width="1.3"/>
<line x1="479.10" y1="758.10" x2="487.70" y2="750.70" stroke="#000" stroke-width="1.3"/>
<line x1="499.00" y1="707.60" x2="499.00" y2="759.00" stroke="#000" stroke-width="1.5"/>
<line x1="499.00" y1="796.00" x2="499.00" y2="834.00" stroke="#000" stroke-width="1.5"/>
<line x1="496.00" y1="707.60" x2="502.00" y2="707.60" stroke="#000" stroke-width="1.5"/>
<line x1="496.00" y1="834.00" x2="502.00" y2="834.00" stroke="#000" stroke-width="1.5"/>
<rect x="492.00" y="759.00" width="14.00" height="37.00" fill="#bdbdbd" stroke="#000" stroke-width="1.5"/>
<line x1="492.00" y1="780.00" x2="506.00" y2="780.00" stroke="#000" stroke-width="1.5"/>
<line x1="494.70" y1="774.90" x2="503.30" y2="782.30" stroke="#000" stroke-width="1.3"/>
<line x1="494.70" y1="782.30" x2="503.30" y2="774.90" stroke="#000" stroke-width="1.3"/>
<line x1="514.40" y1="777.60" x2="514.40" y2="812.00" stroke="#000" stroke-width="1.5"/>
<line x1="514.40" y1="839.40" x2="514.40" y2="847.00" stroke="#000" stroke-width="1.5"/>
<line x1="511.40" y1="777.60" x2="517.40" y2="777.60" stroke="#000" stroke-width="1.5"/>
<line x1="511.40" y1="847.00" x2="517.40" y2="847.00" stroke="#000" stroke-width="1.5"/>
<rect x="507.40" y="812.00" width="14.00" height="27.40" fill="#585858" stroke="#000" stroke-width="1.5"/>
<line x1="507.40" y1="829.40" x2="521.40" y2="829.40" stroke="#000" stroke-width="1.5"/>
<line x1="509.70" y1="819.30" x2="518.30" y2="826.70" stroke="#000" stroke-width="1.3"/>
<line x1="509.70" y1="826.70" x2="518.30" y2="819.30" stroke="#000" stroke-width="1.3"/>
<line x1="575.20" y1="707.60" x2="575.20" y2="733.40" stroke="#000" stroke-width="1.5"/>
<line x1="575.20" y1="758.00" x2="575.20" y2="796.00" stroke="#000" stroke-width="1.5"/>
<line x1="572.20" y1="707.60" x2="578.20" y2="707.60" stroke="#000" stroke-width="1.5"/>
<line x1="572.20" y1="796.00" x2="578.20" y2="796.00" stroke="#000" stroke-width="1.5"/>
<rect x="568.00" y="733.40" width="14.40" height="24.60" fill="#fff" stroke="#000" stroke-width="1.5"/>
<line x1="568.00" y1="744.40" x2="582.40" y2="744.40" stroke="#000" stroke-width="1.5"/>
<line x1="570.70" y1="743.70" x2="579.30" y2="751.10" stroke="#000" stroke-width="1.3"/>
<line x1="570.70" y1="751.10" x2="579.30" y2="743.70" stroke="#000" stroke-width="1.3"/>
<line x1="590.50" y1="728.40" x2="590.50" y2="751.40" stroke="#000" stroke-width="1.5"/>
<line x1="590.50" y1="814.00" x2="590.50" y2="847.00" stroke="#000" stroke-width="1.5"/>
<line x1="587.50" y1="728.40" x2="593.50" y2="728.40" stroke="#000" stroke-width="1.5"/>
<line x1="587.50" y1="847.00" x2="593.50" y2="847.00" stroke="#000" stroke-width="1.5"/>
<rect x="583.60" y="751.40" width="13.80" height="62.60" fill="#bdbdbd" stroke="#000" stroke-width="1.5"/>
<line x1="583.60" y1="805.00" x2="597.40" y2="805.00" stroke="#000" stroke-width="1.5"/>
<line x1="586.10" y1="781.90" x2="594.70" y2="789.30" stroke="#000" stroke-width="1.3"/>
<line x1="586.10" y1="789.30" x2="594.70" y2="781.90" stroke="#000" stroke-width="1.3"/>
<line x1="606.50" y1="755.00" x2="606.50" y2="793.60" stroke="#000" stroke-width="1.5"/>
<line x1="606.50" y1="831.40" x2="606.50" y2="840.40" stroke="#000" stroke-width="1.5"/>
<line x1="603.50" y1="755.00" x2="609.50" y2="755.00" stroke="#000" stroke-width="1.5"/>
<line x1="603.50" y1="840.40" x2="609.50" y2="840.40" stroke="#000" stroke-width="1.5"/>
<rect x="599.60" y="793.60" width="13.80" height="37.80" fill="#585858" stroke="#000" stroke-width="1.5"/>
<line x1="599.60" y1="809.00" x2="613.40" y2="809.00" stroke="#000" stroke-width="1.5"/>
<line x1="602.10" y1="805.70" x2="610.70" y2="813.10" stroke="#000" stroke-width="1.3"/>
<line x1="602.10" y1="813.10" x2="610.70" y2="805.70" stroke="#000" stroke-width="1.3"/>
<circle cx="315.00" cy="822.00" r="2.30" fill="#fff" stroke="#000" stroke-width="1.2"/>
<circle cx="330.40" cy="770.40" r="2.30" fill="#585858" stroke="#000" stroke-width="1.2"/>
<circle cx="407.00" cy="731.80" r="2.30" fill="#fff" stroke="#000" stroke-width="1.2"/>
<circle cx="422.40" cy="784.40" r="2.30" fill="#585858" stroke="#000" stroke-width="1.2"/>
<circle cx="514.00" cy="755.40" r="2.20" fill="#585858" stroke="#000" stroke-width="1.2"/>
<circle cx="514.00" cy="761.00" r="2.20" fill="#585858" stroke="#000" stroke-width="1.2"/>
<text x="206.00" y="641.00" font-size="15" text-anchor="middle">a</text>
<text x="221.00" y="713.60" font-size="15" text-anchor="middle">d</text>
<text x="238.00" y="641.00" font-size="15" text-anchor="middle">a</text>
<text x="299.00" y="663.00" font-size="15" text-anchor="middle">a</text>
<text x="299.00" y="680.40" font-size="15" text-anchor="middle">b</text>
<text x="314.00" y="703.60" font-size="15" text-anchor="middle">a</text>
<text x="330.40" y="762.40" font-size="15" text-anchor="middle">b</text>
<text x="392.00" y="717.00" font-size="15" text-anchor="middle">d</text>
<text x="406.00" y="704.40" font-size="15" text-anchor="middle">c</text>
<text x="406.00" y="721.00" font-size="15" text-anchor="middle">d</text>
<text x="423.00" y="779.60" font-size="15" text-anchor="middle">b</text>
<text x="484.00" y="669.60" font-size="15" text-anchor="middle">c</text>
<text x="499.00" y="687.00" font-size="15" text-anchor="middle">a</text>
<text x="499.00" y="701.60" font-size="15" text-anchor="middle">b</text>
<text x="514.00" y="750.00" font-size="15" text-anchor="middle">b</text>
<text x="574.40" y="685.60" font-size="15" text-anchor="middle">b</text>
<text x="574.40" y="703.00" font-size="15" text-anchor="middle">c</text>
<text x="590.40" y="707.00" font-size="15" text-anchor="middle">b</text>
<text x="590.40" y="723.00" font-size="15" text-anchor="middle">c</text>
<text x="606.00" y="749.60" font-size="15" text-anchor="middle">b</text>
<rect x="309.80" y="621.20" width="9.80" height="9.40" fill="#fff" stroke="#000" stroke-width="1.5"/>
<text x="324.80" y="630.60" font-size="13.4" textLength="26.40" lengthAdjust="spacingAndGlyphs">βsor</text>
<rect x="361.00" y="621.20" width="9.80" height="9.40" fill="#bdbdbd" stroke="#000" stroke-width="1.5"/>
<text x="377.20" y="630.60" font-size="13.4" textLength="33.60" lengthAdjust="spacingAndGlyphs">βbray</text>
<rect x="414.80" y="621.20" width="9.60" height="9.40" fill="#585858" stroke="#000" stroke-width="1.5"/>
<text x="428.40" y="630.60" font-size="13.4" textLength="28.80" lengthAdjust="spacingAndGlyphs">βsne</text>
</svg>
</body></html>
